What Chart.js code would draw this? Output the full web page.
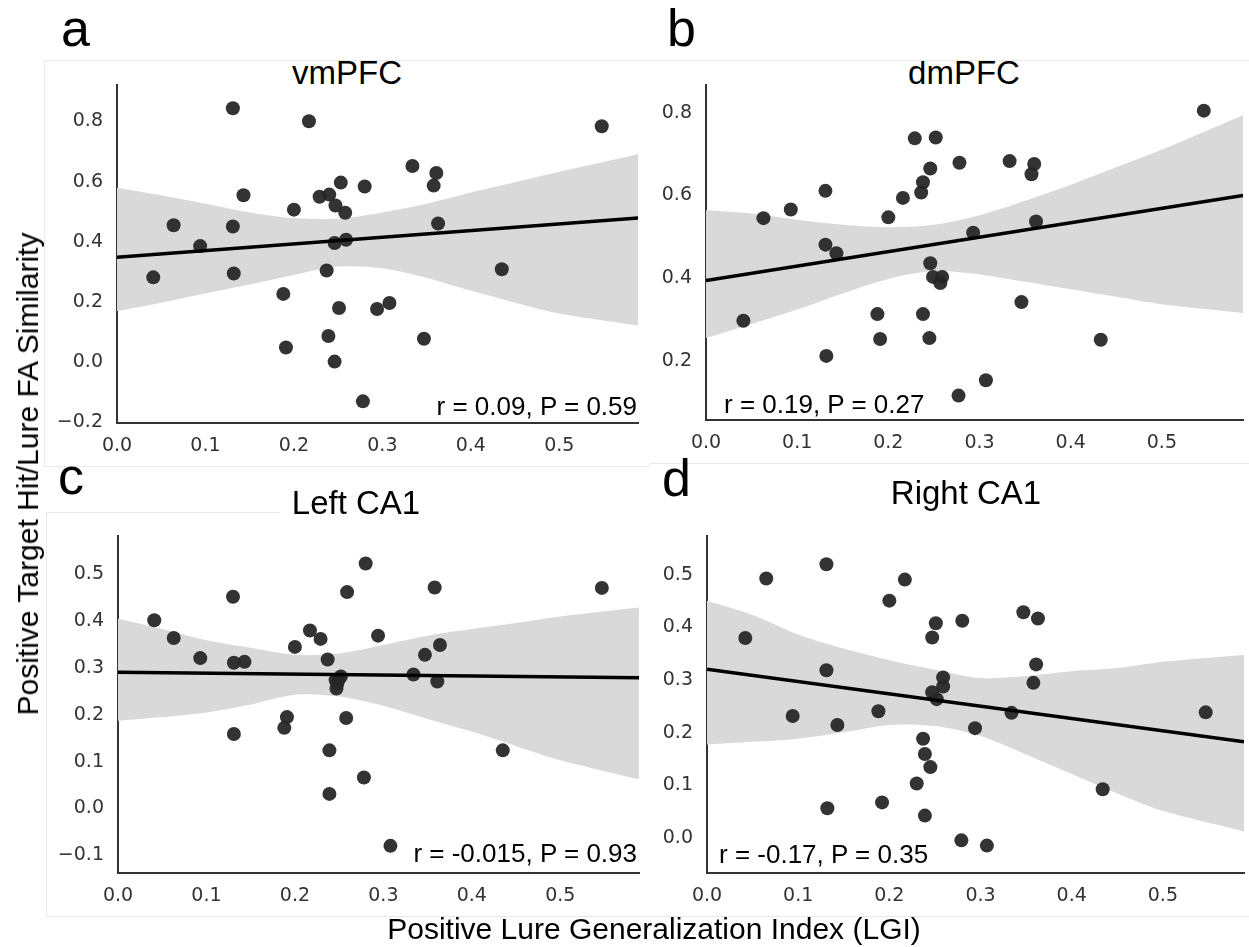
<!DOCTYPE html>
<html>
<head>
<meta charset="utf-8">
<script src="https://cdn.jsdelivr.net/npm/chart.js@4.4.0/dist/chart.umd.min.js"></script>
<style>
  html, body { margin: 0; padding: 0; background: #fff; }
  #fig { position: relative; width: 1249px; height: 947px; overflow: hidden; background: #fff; }
  canvas { position: absolute; }
  .txt { position: absolute; white-space: nowrap; line-height: 1; color: #000;
         font-family: "Liberation Sans", Arial, sans-serif; }
  .rule { position: absolute; background: #e9e9e9; }
  #clipTop { position: absolute; left: 0; top: 61px; width: 1249px; height: 400px; overflow: hidden; }
</style>
</head>
<body>
<div id="fig">
  <div id="clipTop"></div>
</div>
<script>
'use strict';

// x axis: positive lure generalization index, same for all four panels
var lgiTicks = [0, 0.1, 0.2, 0.3, 0.4, 0.5];
var lgiRange = [0, 0.589];

// x positions where the confidence band edges were sampled, and the fit line ends
var ciX = [0, 0.05, 0.1, 0.15, 0.2, 0.25, 0.3, 0.35, 0.4, 0.45, 0.5, 0.589];
var fitX = [0, 0.589];

// a - vmPFC
var lgiA = [0.131, 0.217, 0.548, 0.334, 0.361, 0.358, 0.253, 0.280, 0.143, 0.229, 0.240,
            0.247, 0.258, 0.200, 0.064, 0.131, 0.363, 0.094, 0.246, 0.259, 0.041, 0.132,
            0.237, 0.435, 0.188, 0.251, 0.294, 0.308, 0.239, 0.191, 0.246, 0.347, 0.278];
var simA = [0.844, 0.801, 0.784, 0.652, 0.629, 0.587, 0.597, 0.584, 0.555, 0.550, 0.557,
            0.521, 0.497, 0.507, 0.455, 0.451, 0.461, 0.386, 0.396, 0.407, 0.282, 0.295,
            0.305, 0.309, 0.227, 0.180, 0.177, 0.197, 0.087, 0.049, 0.002, 0.078, -0.130];
var fitA = [0.349, 0.479];
var ciUpperA = [0.580, 0.555, 0.527, 0.498, 0.479, 0.477, 0.498, 0.527, 0.564, 0.598, 0.633, 0.691];
var ciLowerA = [0.170, 0.198, 0.228, 0.258, 0.290, 0.318, 0.312, 0.280, 0.238, 0.198, 0.162, 0.122];
var yTicksA = [-0.2, 0, 0.2, 0.4, 0.6, 0.8];
var yRangeA = [-0.202, 0.92];

// b - dmPFC
var lgiB = [0.546, 0.229, 0.252, 0.278, 0.333, 0.360, 0.357, 0.246, 0.238, 0.236, 0.131,
            0.216, 0.093, 0.063, 0.200, 0.362, 0.293, 0.131, 0.143, 0.246, 0.249, 0.259,
            0.257, 0.346, 0.041, 0.188, 0.238, 0.191, 0.245, 0.433, 0.132, 0.307, 0.277];
var simB = [0.805, 0.738, 0.740, 0.679, 0.683, 0.676, 0.651, 0.665, 0.632, 0.607, 0.611,
            0.594, 0.566, 0.545, 0.547, 0.537, 0.510, 0.481, 0.460, 0.436, 0.403, 0.403,
            0.388, 0.342, 0.297, 0.313, 0.313, 0.253, 0.255, 0.251, 0.212, 0.153, 0.116];
var fitB = [0.394, 0.600];
var ciUpperB = [0.564, 0.556, 0.541, 0.529, 0.523, 0.529, 0.552, 0.587, 0.626, 0.668, 0.711, 0.794];
var ciLowerB = [0.255, 0.289, 0.324, 0.363, 0.398, 0.417, 0.409, 0.391, 0.373, 0.355, 0.337, 0.316];
var yTicksB = [0.2, 0.4, 0.6, 0.8];
var yRangeB = [0.057, 0.866];

// c - Left CA1
var lgiC = [0.280, 0.358, 0.547, 0.259, 0.130, 0.041, 0.063, 0.217, 0.229, 0.294, 0.200,
            0.364, 0.093, 0.131, 0.143, 0.237, 0.347, 0.334, 0.252, 0.246, 0.361, 0.247,
            0.250, 0.248, 0.191, 0.188, 0.258, 0.131, 0.239, 0.435, 0.278, 0.239, 0.308];
var simC = [0.523, 0.472, 0.471, 0.462, 0.452, 0.402, 0.364, 0.380, 0.362, 0.369, 0.345,
            0.349, 0.321, 0.311, 0.313, 0.318, 0.328, 0.286, 0.282, 0.274, 0.271, 0.256,
            0.277, 0.267, 0.195, 0.172, 0.193, 0.159, 0.124, 0.124, 0.066, 0.031, -0.080];
var fitC = [0.291, 0.279];
var ciUpperC = [0.405, 0.383, 0.359, 0.343, 0.328, 0.331, 0.349, 0.369, 0.383, 0.396, 0.410, 0.429];
var ciLowerC = [0.187, 0.195, 0.205, 0.222, 0.243, 0.239, 0.219, 0.191, 0.164, 0.133, 0.103, 0.062];
var yTicksC = [-0.1, 0, 0.1, 0.2, 0.3, 0.4, 0.5];
var yRangeC = [-0.138, 0.581];

// d - Right CA1
var lgiD = [0.131, 0.065, 0.217, 0.200, 0.347, 0.363, 0.251, 0.280, 0.247, 0.042, 0.361,
            0.131, 0.259, 0.358, 0.259, 0.247, 0.252, 0.188, 0.334, 0.547, 0.094, 0.143,
            0.294, 0.237, 0.239, 0.245, 0.230, 0.434, 0.192, 0.132, 0.239, 0.279, 0.307];
var simD = [0.520, 0.493, 0.491, 0.451, 0.429, 0.417, 0.408, 0.413, 0.381, 0.380, 0.330,
            0.319, 0.305, 0.295, 0.288, 0.277, 0.264, 0.241, 0.238, 0.239, 0.232, 0.215,
            0.209, 0.189, 0.160, 0.135, 0.104, 0.093, 0.068, 0.057, 0.043, -0.004, -0.014];
var fitD = [0.321, 0.183];
var ciUpperD = [0.451, 0.424, 0.387, 0.360, 0.338, 0.320, 0.304, 0.308, 0.317, 0.323, 0.335, 0.348];
var ciLowerD = [0.178, 0.183, 0.189, 0.201, 0.215, 0.213, 0.194, 0.159, 0.122, 0.085, 0.052, 0.013];
var yTicksD = [0, 0.1, 0.2, 0.3, 0.4, 0.5];
var yRangeD = [-0.066, 0.573];

var fig = document.getElementById('fig');
var clipTop = document.getElementById('clipTop');

function toPoints(xs, ys) {
  return xs.map(function (x, i) { return { x: x, y: ys[i] }; });
}

function tickText(v) {
  return v.toFixed(1).replace('-', '\u2212');
}

// box = where the plotting area (inside the spines) should sit on the page
function makePanel(box, lgi, sim, fit, upper, lower, yTicks, yRange) {
  var canvas = document.createElement('canvas');
  var w = box.r - box.l + 80;
  var h = box.b - box.t + 57;
  canvas.width = w;
  canvas.height = h;
  canvas.style.left = (box.l - 70) + 'px';
  canvas.style.top = (box.t - 12) + 'px';
  canvas.style.width = w + 'px';
  canvas.style.height = h + 'px';
  fig.appendChild(canvas);

  var tickFont = { family: 'DejaVu Sans', size: 19 };

  return new Chart(canvas.getContext('2d'), {
    type: 'scatter',
    data: {
      datasets: [
        { data: toPoints(ciX, upper), showLine: true, fill: '+1', backgroundColor: '#d9d9d9',
          borderColor: 'rgba(0,0,0,0)', borderWidth: 0, pointRadius: 0, tension: 0.3, order: 3 },
        { data: toPoints(ciX, lower), showLine: true, fill: false,
          borderColor: 'rgba(0,0,0,0)', borderWidth: 0, pointRadius: 0, tension: 0.3, order: 3 },
        { data: toPoints(lgi, sim), backgroundColor: 'rgba(38,38,38,0.94)', borderColor: 'rgba(38,38,38,0.94)',
          borderWidth: 0, pointRadius: 7, order: 2 },
        { data: toPoints(fitX, fit), showLine: true, borderColor: '#000', borderWidth: 3.5,
          pointRadius: 0, order: 1 }
      ]
    },
    options: {
      responsive: false,
      animation: false,
      layout: { padding: { top: 12, right: 10, left: 0, bottom: 0 } },
      plugins: { legend: { display: false }, tooltip: { enabled: false } },
      scales: {
        x: {
          type: 'linear', min: lgiRange[0], max: lgiRange[1],
          grid: { display: false, drawTicks: false },
          border: { display: true, color: '#333', width: 2 },
          afterBuildTicks: function (axis) { axis.ticks = lgiTicks.map(function (v) { return { value: v }; }); },
          afterFit: function (axis) { axis.height = 45; },
          ticks: { padding: 12, maxRotation: 0, autoSkip: false, color: '#333', font: tickFont, callback: tickText }
        },
        y: {
          type: 'linear', min: yRange[0], max: yRange[1],
          grid: { display: false, drawTicks: false },
          border: { display: true, color: '#333', width: 2 },
          afterBuildTicks: function (axis) { axis.ticks = yTicks.map(function (v) { return { value: v }; }); },
          afterFit: function (axis) { axis.width = 70; },
          ticks: { padding: 14, autoSkip: false, color: '#333', font: tickFont, callback: tickText }
        }
      }
    }
  });
}

// text placed by its baseline (line-height 1, Liberation Sans ascent offset)
function addText(parent, txt, x, base, size, align, offsetTop) {
  var d = document.createElement('div');
  d.className = 'txt';
  d.textContent = txt;
  d.style.fontSize = size + 'px';
  d.style.top = (base - 0.8465 * size - (offsetTop || 0)) + 'px';
  if (align === 'center') {
    d.style.left = (x - 400) + 'px'; d.style.width = '800px'; d.style.textAlign = 'center';
  } else if (align === 'right') {
    d.style.left = (x - 800) + 'px'; d.style.width = '800px'; d.style.textAlign = 'right';
  } else {
    d.style.left = x + 'px';
  }
  parent.appendChild(d);
  return d;
}

function addRule(l, t, w, h) {
  var r = document.createElement('div');
  r.className = 'rule';
  r.style.left = l + 'px'; r.style.top = t + 'px';
  r.style.width = w + 'px'; r.style.height = h + 'px';
  fig.appendChild(r);
}

// faint frames around the sub-figures
addRule(44, 60, 1205, 1);
addRule(44, 60, 1, 407);
addRule(44, 466, 606, 1);
addRule(650, 463, 599, 1);
addRule(46, 512, 1, 404);
addRule(46, 512, 234, 1);
addRule(46, 916, 1203, 1);

makePanel({ l: 117, t: 72, r: 638, b: 423 }, lgiA, simA, fitA, ciUpperA, ciLowerA, yTicksA, yRangeA);
makePanel({ l: 706, t: 72, r: 1243, b: 420 }, lgiB, simB, fitB, ciUpperB, ciLowerB, yTicksB, yRangeB);
makePanel({ l: 118, t: 523, r: 639, b: 873 }, lgiC, simC, fitC, ciUpperC, ciLowerC, yTicksC, yRangeC);
makePanel({ l: 707, t: 523, r: 1244, b: 873 }, lgiD, simD, fitD, ciUpperD, ciLowerD, yTicksD, yRangeD);

// panel letters
addText(fig, 'a', 61, 46, 52, 'left');
addText(fig, 'b', 667, 46, 52, 'left');
addText(fig, 'c', 58, 494, 52, 'left');
addText(fig, 'd', 662, 496, 52, 'left');

// region titles (top row sits just under its frame)
addText(clipTop, 'vmPFC', 347, 84, 33, 'center', 61);
addText(clipTop, 'dmPFC', 964, 84, 33, 'center', 61);
addText(fig, 'Left CA1', 356, 514, 33, 'center');
addText(fig, 'Right CA1', 966, 504, 33, 'center');

// correlation stats
addText(fig, 'r = 0.09, P = 0.59', 637, 415, 26, 'right');
addText(fig, 'r = 0.19, P = 0.27', 724, 413, 26, 'left');
addText(fig, 'r = -0.015, P = 0.93', 637, 862, 26, 'right');
addText(fig, 'r = -0.17, P = 0.35', 719, 863, 26, 'left');

// shared axis labels
addText(fig, 'Positive Lure Generalization Index (LGI)', 654, 939, 30, 'center');
var yLab = document.createElement('div');
yLab.className = 'txt';
yLab.textContent = 'Positive Target Hit/Lure FA Similarity';
yLab.style.fontSize = '30px';
yLab.style.left = '28px';
yLab.style.top = '474px';
yLab.style.transform = 'translate(-50%, -50%) rotate(-90deg)';
fig.appendChild(yLab);
</script>
</body>
</html>
